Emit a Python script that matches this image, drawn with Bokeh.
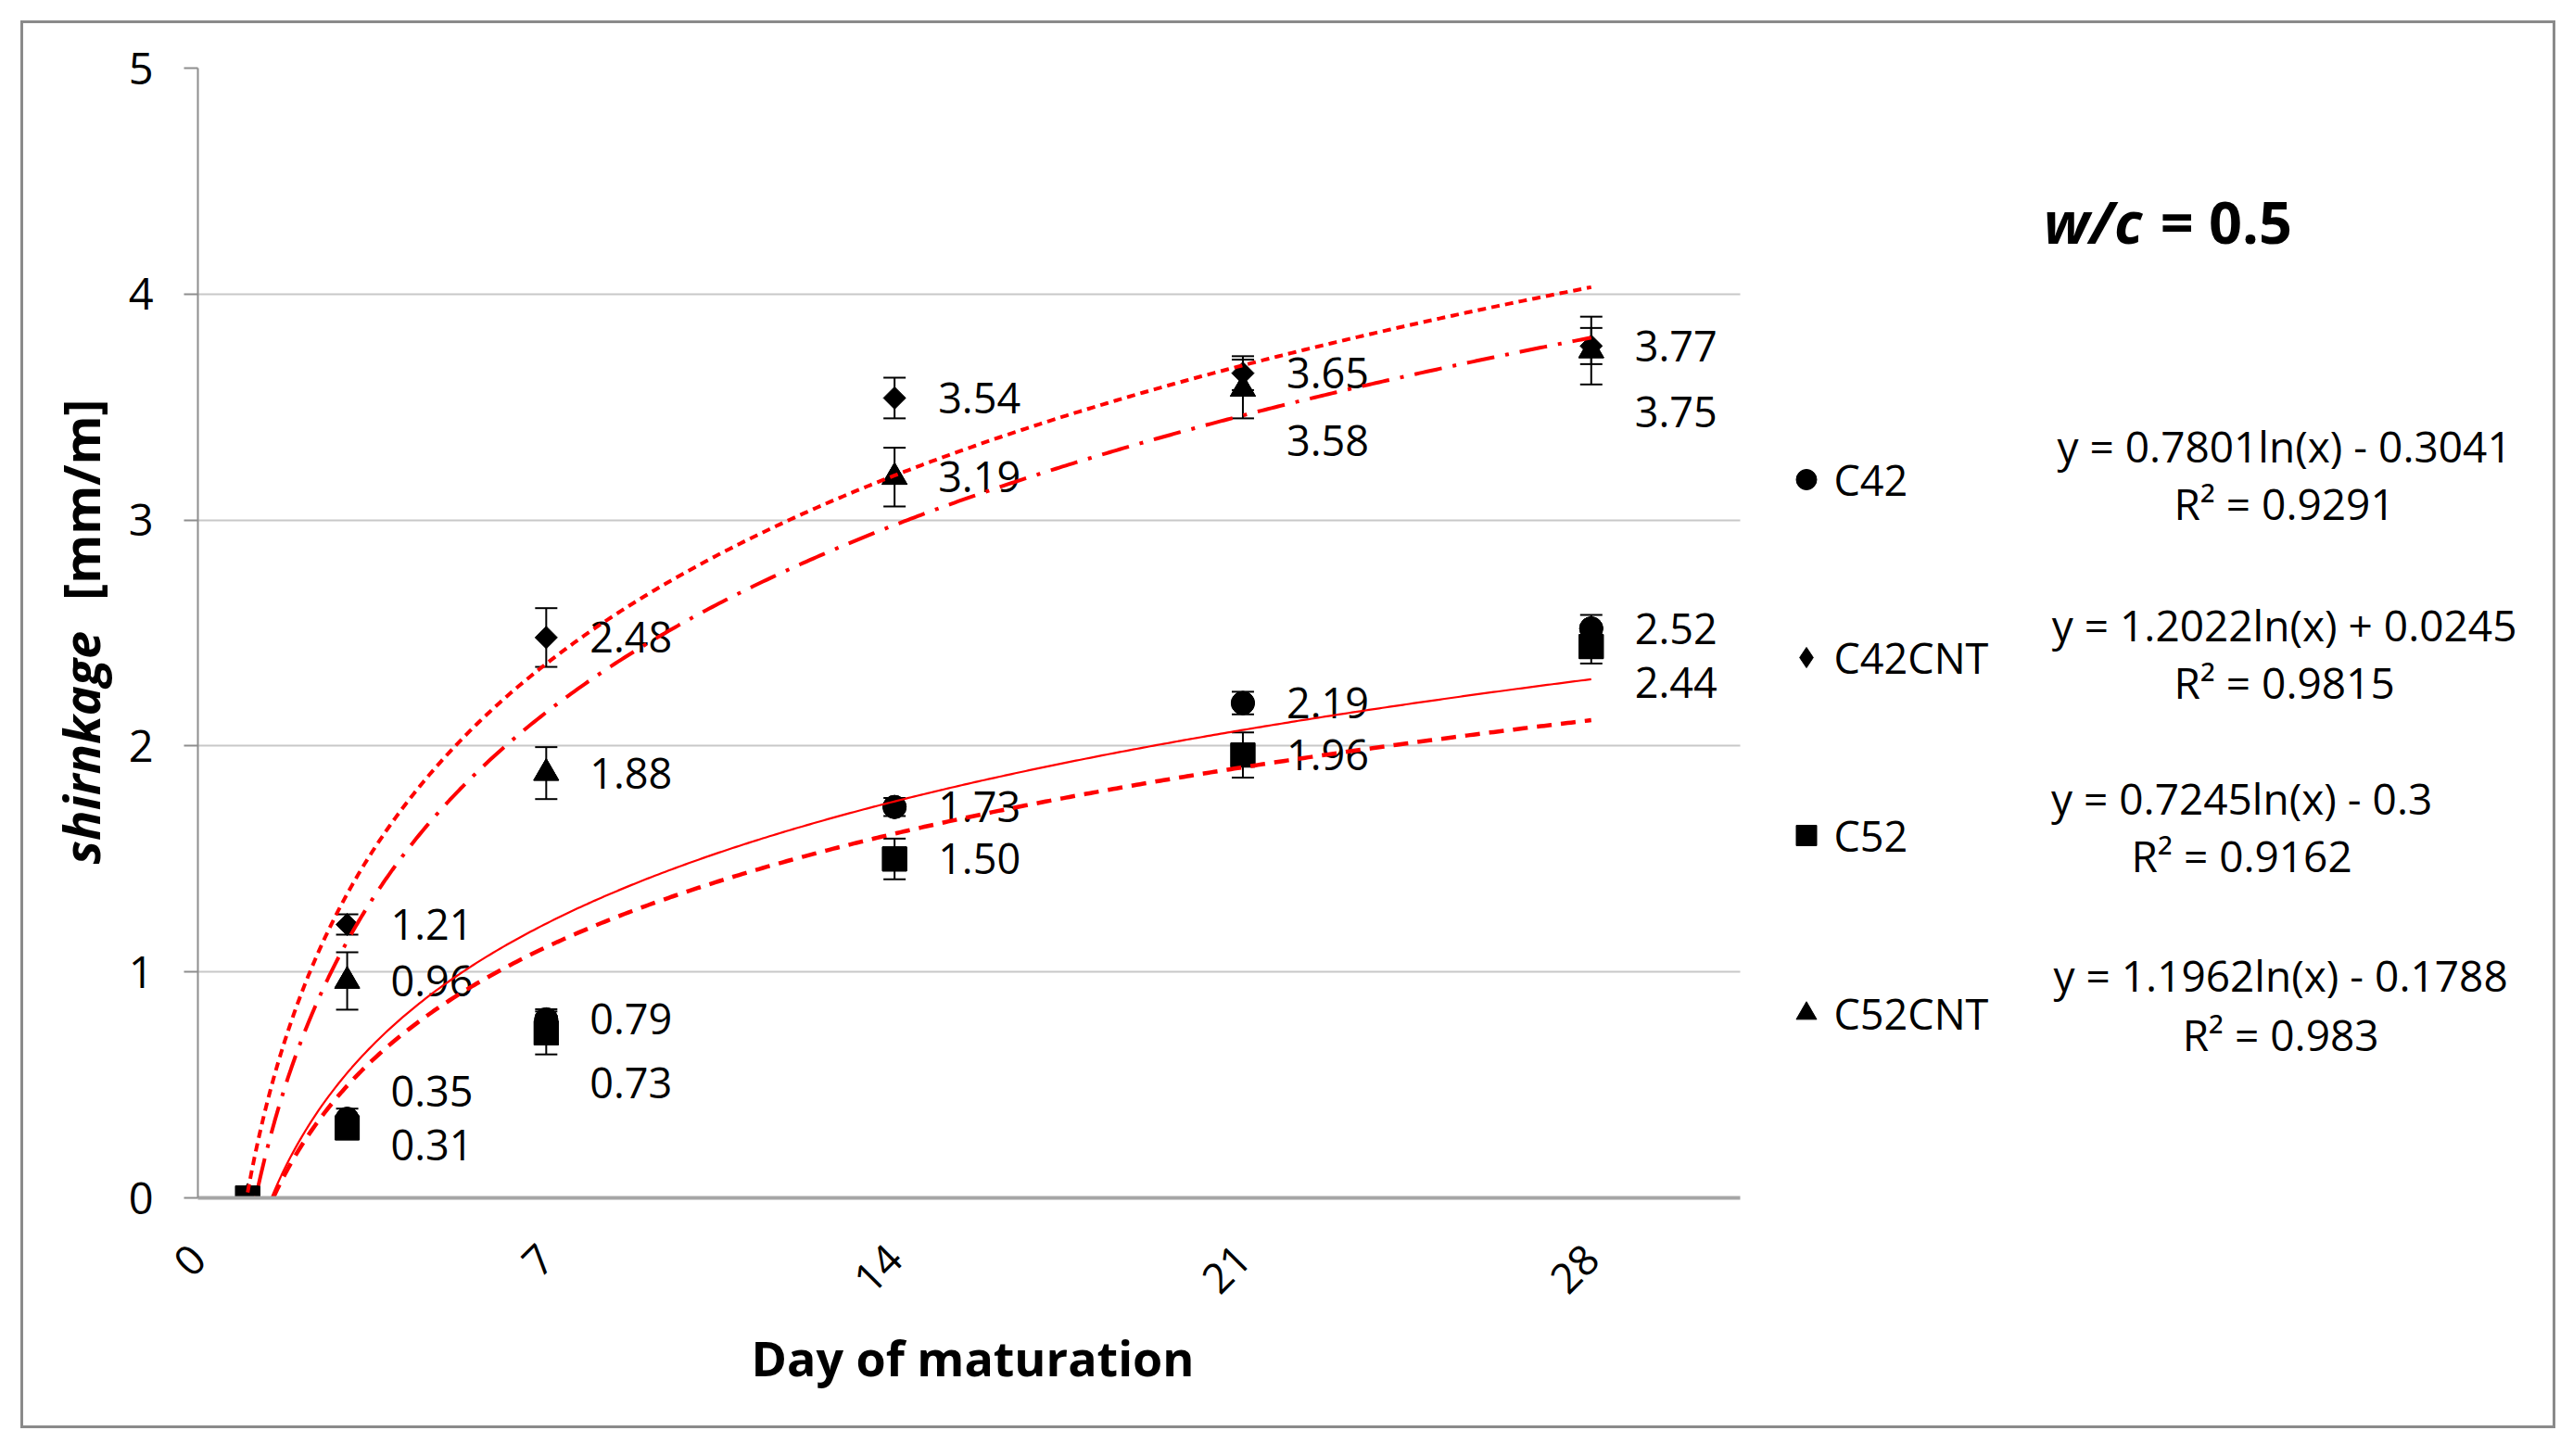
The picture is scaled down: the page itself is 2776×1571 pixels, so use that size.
import numpy as np
from bokeh.plotting import figure
from bokeh.layouts import row
from bokeh.models import (ColumnDataSource, Whisker, TeeHead, Legend, LegendItem,
                          Label, Range1d, FixedTicker, Title)
from bokeh.embed import file_html
from bokeh.resources import INLINE
from bokeh.core.properties import value

# ---------------- data ----------------
days = [1, 3, 7, 14, 21, 28]
series_names = ["C42", "C42CNT", "C52", "C52CNT"]
c42 = [0.0, 0.35, 0.79, 1.73, 2.19, 2.52]
c42cnt = [0.0, 1.21, 2.48, 3.54, 3.65, 3.77]
c52 = [0.0, 0.31, 0.73, 1.50, 1.96, 2.44]
c52cnt = [0.0, 0.96, 1.88, 3.19, 3.58, 3.75]
c42_err = [0.0, 0.045, 0.045, 0.04, 0.05, 0.06]
c42cnt_err = [0.0, 0.045, 0.13, 0.09, 0.075, 0.08]
c52_err = [0.0, 0.03, 0.095, 0.09, 0.10, 0.075]
c52cnt_err = [0.0, 0.127, 0.115, 0.13, 0.13, 0.15]
# logarithmic trendlines y = a*ln(x) + b as printed on the chart
trend_a = [0.7801, 1.2022, 0.7245, 1.1962]
trend_b = [-0.3041, 0.0245, -0.3, -0.1788]
trend_r2 = ["0.9291", "0.9815", "0.9162", "0.983"]
x_ticks = [0, 7, 14, 21, 28]
y_ticks = [0, 1, 2, 3, 4, 5]
x_axis_max = 31
y_axis_max = 5

values = [c42, c42cnt, c52, c52cnt]
errors = [c42_err, c42cnt_err, c52_err, c52cnt_err]

# ---------------- styles ----------------
FONT = "Open Sans"
RED = "#ff0000"
markers = ["circle", "square", "square", "triangle"]
legend_markers = ["circle", "diamond", "square", "triangle"]
marker_sizes = [25, 17, 26, 27]
legend_proxy_sizes = [25, 20, 26, 27]
marker_angles = [0, np.pi / 4, 0, 0]
trend_dash = ["solid", "9 6", "16 10", "30 12 4 12"]
trend_width = [2.2, 4, 4.5, 4]
# vertical pixel offsets of the value labels (per series, per day)
label_dy = [
    [0, -30, 0, 0, 0, 0],
    [0, 0, 0, 0, 0, 0],
    [0, 19, 54, 0, 0, 39],
    [0, 0, 0, 0, 56, 66],
]
LABEL_DX = 47

# geometry (page pixels)
OUT = 22            # outer edge of the grey border
BW = 3              # border width
IN0 = OUT + BW      # first inner pixel
INNER_W, INNER_H = 2729, 1513
FRAME_L, FRAME_T, FRAME_B = 212, 73, 1292
PX_PER_DAY = (1877 - FRAME_L) / x_axis_max
PX_PER_UNIT = (FRAME_B - FRAME_T) / y_axis_max

LEFT_W = 110
MAIN_W = INNER_W - LEFT_W
main_left = IN0 + LEFT_W
frame_w = IN0 + INNER_W - FRAME_L
x_vis_max = frame_w / PX_PER_DAY


def px_x(px):
    return (px - FRAME_L) / PX_PER_DAY


def px_y(py):
    return (FRAME_B - py) / PX_PER_UNIT


# ---------------- main figure ----------------
p = figure(width=MAIN_W, height=INNER_H, output_backend="svg", toolbar_location=None,
           x_range=Range1d(0, x_vis_max), y_range=Range1d(0, y_axis_max),
           min_border_left=FRAME_L - main_left, min_border_top=FRAME_T - IN0,
           min_border_right=0, min_border_bottom=IN0 + INNER_H - FRAME_B)
p.outline_line_color = None
p.background_fill_color = "white"
p.border_fill_color = "white"

p.xgrid.visible = False
p.ygrid.ticker = FixedTicker(ticks=y_ticks)
p.ygrid.grid_line_color = "#c8c8c8"
p.ygrid.grid_line_width = 2
p.ygrid.cross_bounds = (0, x_axis_max)

p.yaxis.ticker = FixedTicker(ticks=y_ticks)
p.yaxis.axis_line_color = "#8e8e8e"
p.yaxis.axis_line_width = 2
p.yaxis.major_tick_line_color = "#8e8e8e"
p.yaxis.major_tick_line_width = 2
p.yaxis.major_tick_out = 15
p.yaxis.major_tick_in = 0
p.yaxis.minor_tick_line_color = None
p.yaxis.major_label_text_font = FONT
p.yaxis.major_label_text_font_size = "47px"
p.yaxis.major_label_text_color = "black"
p.yaxis.major_label_standoff = 33

p.xaxis.ticker = FixedTicker(ticks=x_ticks)
p.xaxis.bounds = (0, x_axis_max)
p.xaxis.axis_line_color = "#a6a6a6"
p.xaxis.axis_line_width = 4
p.xaxis.major_tick_line_color = None
p.xaxis.minor_tick_line_color = None
p.xaxis.major_tick_out = 0
p.xaxis.major_tick_in = 0
p.xaxis.major_label_text_font = FONT
p.xaxis.major_label_text_font_size = "45px"
p.xaxis.major_label_text_color = "black"
p.xaxis.major_label_orientation = np.pi / 4
p.xaxis.major_label_standoff = 58

# x-axis title, centred under the 0..31 axis span
x_title = Title(text="Day of maturation", align="left", offset=597, standoff=26,
                text_font=FONT, text_font_size="52px", text_font_style="bold",
                text_color="black")
p.add_layout(x_title, "below")

# legend symbol renderers: same data, drawn first and hidden under the real markers
legend_renderers = []
for i in range(4):
    src = ColumnDataSource(dict(x=days, y=values[i]))
    lr = p.scatter("x", "y", source=src, marker=legend_markers[i],
                   size=legend_proxy_sizes[i], fill_color="black", line_color="black")
    legend_renderers.append(lr)

# markers
for i, name in enumerate(series_names):
    src = ColumnDataSource(dict(x=days, y=values[i]))
    p.scatter("x", "y", source=src, marker=markers[i], size=marker_sizes[i],
              angle=marker_angles[i], fill_color="black", line_color="black")

# error bars
for i in range(4):
    xs = [d for d, e in zip(days, errors[i]) if e > 0]
    up = [v + e for v, e in zip(values[i], errors[i]) if e > 0]
    lo = [v - e for v, e in zip(values[i], errors[i]) if e > 0]
    esrc = ColumnDataSource(dict(base=xs, upper=up, lower=lo))
    w = Whisker(source=esrc, base="base", upper="upper", lower="lower",
                line_color="black", line_width=2,
                upper_head=TeeHead(size=24, line_color="black", line_width=2),
                lower_head=TeeHead(size=24, line_color="black", line_width=2))
    p.add_layout(w)

# value labels
for i in range(4):
    xs, ys, txt, dys = [], [], [], []
    for j, d in enumerate(days):
        if values[i][j] > 0:
            xs.append(d)
            ys.append(values[i][j])
            txt.append(f"{values[i][j]:.2f}")
            dys.append(label_dy[i][j])
    lsrc = ColumnDataSource(dict(x=xs, y=ys, text=txt, dy=dys))
    p.text("x", "y", text="text", source=lsrc, x_offset=LABEL_DX, y_offset="dy",
           text_font=value(FONT), text_font_size="45px", text_color="black",
           text_align="left", text_baseline="middle")

# trendlines
xt = np.linspace(days[0], days[-1], 400)
for i in range(4):
    yt = trend_a[i] * np.log(xt) + trend_b[i]
    p.line(xt, yt, line_color=RED, line_width=trend_width[i], line_dash=trend_dash[i])

# legend (location = bottom-left corner, measured from the frame's bottom-left)
GW, GH = 55, 62
SP = 130
leg_h = 4 * GH + 3 * SP
leg_top = 517 - GH / 2
items = [LegendItem(label=series_names[i], renderers=[legend_renderers[i]], index=0)
         for i in range(4)]
legend = Legend(items=items, location=(1947 - FRAME_L - GW / 2, FRAME_B - (leg_top + leg_h)),
                orientation="vertical",
                glyph_width=GW, glyph_height=GH, label_height=GH, spacing=SP,
                padding=0, margin=0, label_standoff=3,
                label_text_font=FONT, label_text_font_size="45px", label_text_color="black",
                background_fill_alpha=0, border_line_color=None)
p.add_layout(legend, "center")

# equations
eq_cx = [2464, 2464, 2418, 2460]
eq_y1 = [480, 673, 860, 1051]
eq_y2 = [542, 735, 922, 1115]
for i in range(4):
    sign = "+" if trend_b[i] >= 0 else "-"
    eq = f"y = {trend_a[i]}ln(x) {sign} {abs(trend_b[i])}"
    for txt, yy in ((eq, eq_y1[i]), (f"R\u00b2 = {trend_r2[i]}", eq_y2[i])):
        p.add_layout(Label(x=px_x(eq_cx[i]), y=px_y(yy), text=txt, text_font=FONT,
                           text_font_size="46px", text_color="black",
                           text_align="center", text_baseline="middle"))

# w/c title
p.add_layout(Label(x=px_x(2204), y=px_y(238), text="w/c", text_font=FONT,
                   text_font_size="63px", text_font_style="bold italic",
                   text_color="black", text_align="left", text_baseline="middle"))
p.add_layout(Label(x=px_x(2330), y=px_y(238), text="= 0.5", text_font=FONT,
                   text_font_size="63px", text_font_style="bold",
                   text_color="black", text_align="left", text_baseline="middle"))

# ---------------- left strip with the y-axis title ----------------
# (its frame is aligned vertically with the main frame by the row layout)
lf = figure(width=LEFT_W, height=INNER_H, output_backend="svg", toolbar_location=None,
            x_range=Range1d(0, LEFT_W), y_range=Range1d(0, y_axis_max),
            x_axis_type=None, y_axis_type=None,
            min_border_left=0, min_border_right=0,
            min_border_top=FRAME_T - IN0, min_border_bottom=IN0 + INNER_H - FRAME_B)
lf.outline_line_color = None
lf.grid.visible = False
lf.background_fill_color = "white"
lf.border_fill_color = "white"
lf.add_layout(Label(x=86 - IN0, y=px_y(932), text="shirnkage", angle=np.pi / 2,
                    text_font=FONT, text_font_size="54px", text_font_style="bold italic",
                    text_color="black", text_align="left", text_baseline="middle"))
lf.add_layout(Label(x=86 - IN0, y=px_y(430), text="[mm/m]", angle=np.pi / 2,
                    text_font=FONT, text_font_size="54px", text_font_style="bold",
                    text_color="black", text_align="right", text_baseline="middle"))

layout = row(lf, p, spacing=0)
layout.margin = (OUT, 0, 0, OUT)
layout.styles = {"border": f"{BW}px solid #8a8a8a", "background-color": "white"}

open("out.html", "w").write(file_html(layout, INLINE))
